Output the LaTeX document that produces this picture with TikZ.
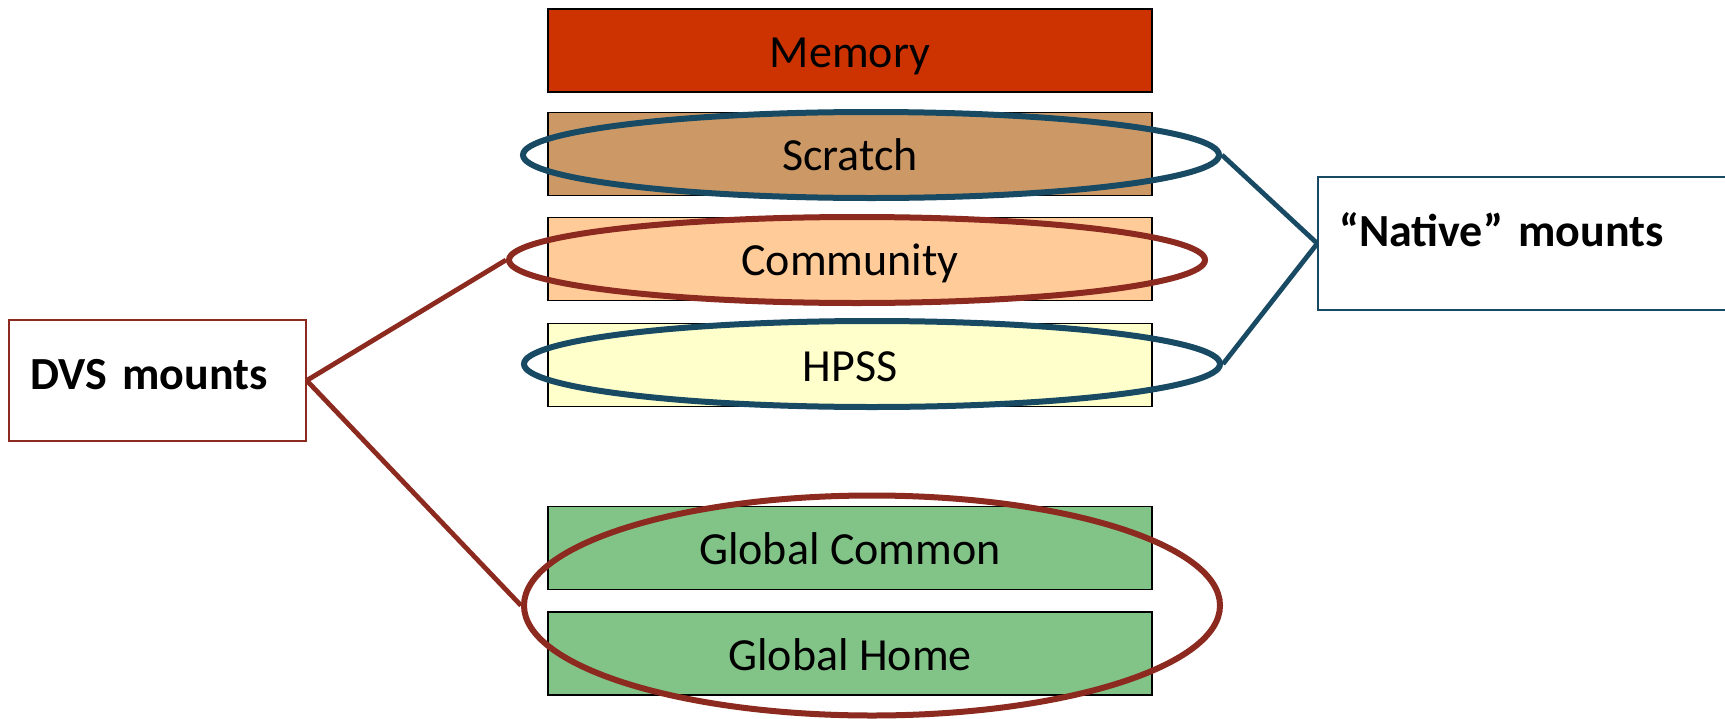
\documentclass[tikz,border=0pt]{standalone}
\usepackage{fontspec}
\setmainfont{Carlito}
\usetikzlibrary{shapes.geometric}

\definecolor{memred}{RGB}{204,51,0}
\definecolor{scratchtan}{RGB}{204,153,102}
\definecolor{commpeach}{RGB}{255,204,153}
\definecolor{hpssyellow}{RGB}{255,255,204}
\definecolor{globgreen}{RGB}{130,196,136}
\definecolor{ringblue}{RGB}{25,74,100}
\definecolor{ringred}{RGB}{140,42,32}

\tikzset{
  tier/.style={rectangle, draw=black, line width=0.9pt, minimum width=302pt,
    minimum height=41.5pt, text height=16.8pt, text depth=0pt,
    font=\fontsize{23}{27}\selectfont},
  ring/.style={ellipse, line width=3pt, minimum width=348pt, minimum height=43pt},
  mountbox/.style={rectangle, line width=0.7pt, inner xsep=10.5pt, align=left,
    text depth=0pt, font=\bfseries\fontsize{23}{27}\selectfont},
  link/.style={line width=2.4pt}
}

\begin{document}
\begin{tikzpicture}[x=0.5pt,y=-0.5pt]
  \useasboundingbox (0,0) rectangle (1725,718);
  \clip (0,0) rectangle (1725,718);
  \node[tier, fill=memred] (memory) at (850,50.5) {Memory};
  \node[tier, fill=scratchtan] (scratch) at (850,154) {Scratch};
  \node[tier, fill=commpeach] (community) at (850,259) {Community};
  \node[tier, fill=hpssyellow] (hpss) at (850,365) {HPSS};
  \node[tier, fill=globgreen] (gcommon) at (850,548) {Global Common};
  \node[tier, fill=globgreen] (ghome) at (850,653.5) {Global Home};

  \node[ring, draw=ringblue] (scratchring) at (871,155) {};
  \node[ring, draw=ringred] (commring) at (857,260) {};
  \node[ring, draw=ringblue] (hpssring) at (872,364) {};
  \node[ring, draw=ringred, minimum height=110pt] (globring) at (872,605.5) {};

  \node[mountbox, draw=ringred, fill=white, minimum height=60.5pt, text width=127.5pt,
    text height=9.3pt] (dvs) at (157.5,380.5) {DVS mounts};
  \node[mountbox, draw=ringblue, fill=white, minimum height=66.5pt, text width=190pt,
    text height=3.3pt] (native) at (1529,243.5) {“Native” mounts};

  \draw[link, ringred] (dvs.east) -- (commring.west);
  \draw[link, ringred] (dvs.east) -- (globring.west);
  \draw[link, ringblue] (scratchring.east) -- (native.west);
  \draw[link, ringblue] (hpssring.east) -- (native.west);
\end{tikzpicture}
\end{document}
